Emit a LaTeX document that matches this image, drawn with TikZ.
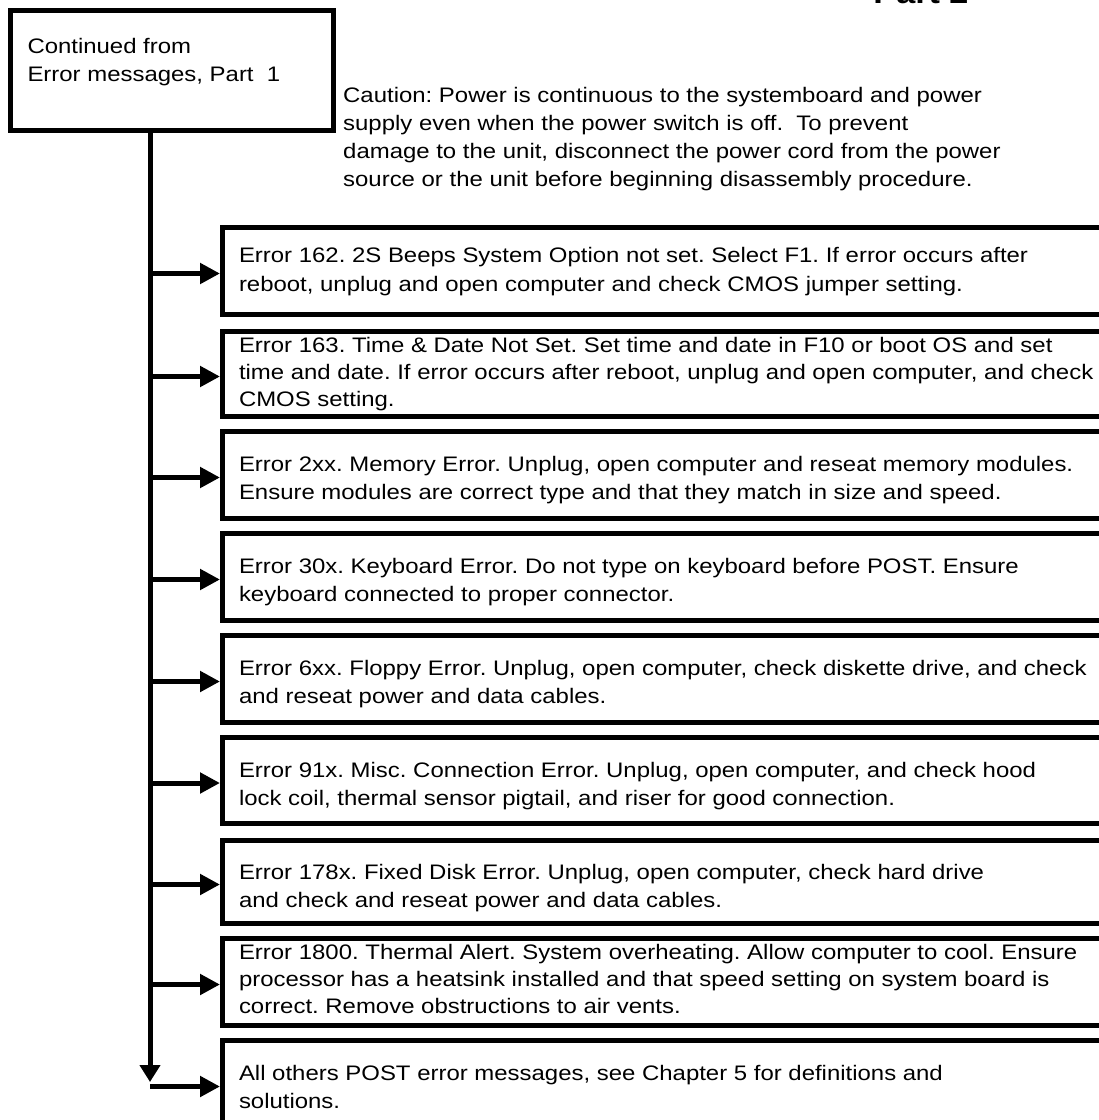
\documentclass[tikz,border=0pt]{standalone}
\usepackage{fontspec}
\setmainfont{Liberation Sans}[FakeStretch=1.14]
\usetikzlibrary{arrows.meta}
\frenchspacing
\newcommand\boxlines[5]{% #1 height, #2 top gap, #3 width, #4 line pitch, #5 text
  \begin{minipage}[t][#1][t]{#3}\raggedright\setlength\baselineskip{#4}\vspace*{#2}\rule{0pt}{20pt}#5\end{minipage}}
\begin{document}
\begin{tikzpicture}[x=1pt,y=-1pt,
  font=\fontsize{21}{28.5}\selectfont,
  every node/.style={inner sep=0pt},
  frame/.style={draw, line width=5pt, anchor=north west, inner xsep=16.5pt, inner ysep=0pt},
  startbox/.style={draw, line width=5pt, anchor=north west, inner xsep=17.5pt, inner ysep=0pt},
  conn/.style={line width=5pt, -{Triangle[length=20pt,width=20pt]}},
  trunkline/.style={line width=5pt, -{Triangle[length=17pt,width=20pt]}}
]
\useasboundingbox (0,0) rectangle (1099,1120);
\clip (0,0) rectangle (1099,1120);
\fill[white] (0,0) rectangle (1099,1120);

\node[anchor=base, font=\fontsize{30}{36}\selectfont\bfseries] (title) at (921,3) {Part 2};

\node[startbox] (start) at (7.5,7.5)
  {\boxlines{120pt}{23.3pt}{288pt}{28.5pt}{Continued from\\Error messages, Part~~1}};

\node[anchor=north west] (caution) at (343,82)
  {\boxlines{100pt}{0pt}{740pt}{28pt}{Caution: Power is continuous to the systemboard and power\\
   supply even when the power switch is off.\ \ To prevent\\
   damage to the unit, disconnect the power cord from the power\\
   source or the unit before beginning disassembly procedure.}};

\node[frame] (b1) at (220,224.5) {\boxlines{87pt}{15.5pt}{900pt}{29pt}{Error 162. 2S Beeps System Option not set. Select F1. If error occurs after\\reboot, unplug and open computer and check CMOS jumper setting.}};
\node[frame] (b2) at (220,328.5) {\boxlines{85pt}{1pt}{900pt}{27pt}{Error 163. Time \& Date Not Set. Set time and date in F10 or boot OS and set\\time and date. If error occurs after reboot, unplug and open computer, and check\\CMOS setting.}};
\node[frame] (b3) at (220,428.5) {\boxlines{87pt}{20pt}{900pt}{28pt}{Error 2xx. Memory Error. Unplug, open computer and reseat memory modules.\\Ensure modules are correct type and that they match in size and speed.}};
\node[frame] (b4) at (220,530.5) {\boxlines{87pt}{20pt}{900pt}{28pt}{Error 30x. Keyboard Error. Do not type on keyboard before POST. Ensure\\keyboard connected to proper connector.}};
\node[frame] (b5) at (220,632.5) {\boxlines{87pt}{20pt}{900pt}{28pt}{Error 6xx. Floppy Error. Unplug, open computer, check diskette drive, and check\\and reseat power and data cables.}};
\node[frame] (b6) at (220,734.5) {\boxlines{86pt}{20pt}{900pt}{28pt}{Error 91x. Misc. Connection Error. Unplug, open computer, and check hood\\lock coil, thermal sensor pigtail, and riser for good connection.}};
\node[frame] (b7) at (220,837.5) {\boxlines{83pt}{19pt}{900pt}{28pt}{Error 178x. Fixed Disk Error. Unplug, open computer, check hard drive\\and check and reseat power and data cables.}};
\node[frame] (b8) at (220,935.5) {\boxlines{87pt}{1pt}{900pt}{27pt}{Error 1800. Thermal Alert. System overheating. Allow computer to cool. Ensure\\processor has a heatsink installed and that speed setting on system board is\\correct. Remove obstructions to air vents.}};
\node[frame] (b9) at (220,1037.5) {\boxlines{87pt}{20pt}{900pt}{28pt}{All others POST error messages, see Chapter 5 for definitions and\\solutions.}};

\coordinate (tbot) at (150,1082);
\draw[trunkline] (start.south -| tbot) -- (tbot);
\foreach \b in {b1,b2,b3,b4,b5,b6,b7,b8,b9}{
  \draw[conn] ([yshift=-3pt]\b.west -| tbot) -- ([yshift=-3pt]\b.west);
}
\end{tikzpicture}
\end{document}
